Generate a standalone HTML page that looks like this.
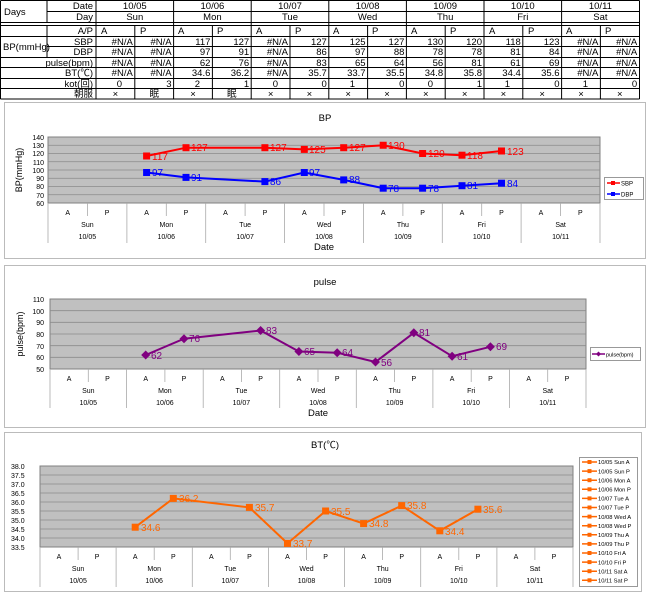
<!DOCTYPE html>
<html><head><meta charset="utf-8"><style>
body{margin:0;background:#fff;}
svg{display:block;font-family:"Liberation Sans","Noto Sans CJK JP",sans-serif;}
.t{font-size:9.5px;fill:#000}
.s{font-size:7px;fill:#000}
.r{text-anchor:end}
.c{text-anchor:middle}
</style></head><body>
<svg width="650" height="594" viewBox="0 0 650 594" xmlns="http://www.w3.org/2000/svg">
<rect width="650" height="594" fill="#fff"/>
<!-- TABLE -->
<g stroke="#000" stroke-width="1" fill="none">
<path d="M0.5 0.5H639.5M47 11.5H639.5M0.5 22.5H639.5M0.5 25.5H639.5M0.5 36.5H639.5M47 46.5H639.5M0.5 57.5H639.5M0.5 67.5H639.5M0.5 78.5H639.5M0.5 88.5H639.5M0.5 99H639.5"/>
<path d="M0.5 0.5V99M639.5 0.5V99M47 0.5V22.5M47 25.5V57.5M96 0.5V99M173.6 0.5V99M251.2 0.5V99M328.8 0.5V99M406.4 0.5V99M484 0.5V99M561.6 0.5V99"/>
<path d="M134.8 25.5V99M212.4 25.5V99M290 25.5V99M367.6 25.5V99M445.2 25.5V99M522.8 25.5V99M600.4 25.5V99"/>
</g>
<g class="t">
<text x="4" y="15">Days</text>
<text x="93" y="9" class="r">Date</text><text x="93" y="20" class="r">Day</text><text x="93" y="34" class="r">A/P</text>
<text x="3" y="50">BP(mmHg)</text>
<text x="93" y="45" class="r">SBP</text><text x="93" y="55" class="r">DBP</text>
<text x="93" y="66" class="r">pulse(bpm)</text><text x="93" y="76" class="r">BT(℃)</text><text x="93" y="87" class="r">kot(回)</text><text x="93" y="97" class="r">朝服</text>
<g class="c">
<text x="134.8" y="9">10/05</text><text x="212.4" y="9">10/06</text><text x="290" y="9">10/07</text><text x="367.6" y="9">10/08</text><text x="445.2" y="9">10/09</text><text x="522.8" y="9">10/10</text><text x="600.4" y="9">10/11</text>
<text x="134.8" y="20">Sun</text><text x="212.4" y="20">Mon</text><text x="290" y="20">Tue</text><text x="367.6" y="20">Wed</text><text x="445.2" y="20">Thu</text><text x="522.8" y="20">Fri</text><text x="600.4" y="20">Sat</text>
</g>
<g>
<text x="101" y="34">A</text><text x="140" y="34">P</text><text x="178" y="34">A</text><text x="217" y="34">P</text><text x="256" y="34">A</text><text x="295" y="34">P</text><text x="333" y="34">A</text><text x="372" y="34">P</text><text x="411" y="34">A</text><text x="450" y="34">P</text><text x="489" y="34">A</text><text x="528" y="34">P</text><text x="566" y="34">A</text><text x="605" y="34">P</text>
</g>
<g class="r">
<text x="132.8" y="45">#N/A</text><text x="171.6" y="45">#N/A</text><text x="210.4" y="45">117</text><text x="249.2" y="45">127</text><text x="288" y="45">#N/A</text><text x="326.8" y="45">127</text><text x="365.6" y="45">125</text><text x="404.4" y="45">127</text><text x="443.2" y="45">130</text><text x="482" y="45">120</text><text x="520.8" y="45">118</text><text x="559.6" y="45">123</text><text x="598.4" y="45">#N/A</text><text x="637.2" y="45">#N/A</text>
<text x="132.8" y="55">#N/A</text><text x="171.6" y="55">#N/A</text><text x="210.4" y="55">97</text><text x="249.2" y="55">91</text><text x="288" y="55">#N/A</text><text x="326.8" y="55">86</text><text x="365.6" y="55">97</text><text x="404.4" y="55">88</text><text x="443.2" y="55">78</text><text x="482" y="55">78</text><text x="520.8" y="55">81</text><text x="559.6" y="55">84</text><text x="598.4" y="55">#N/A</text><text x="637.2" y="55">#N/A</text>
<text x="132.8" y="66">#N/A</text><text x="171.6" y="66">#N/A</text><text x="210.4" y="66">62</text><text x="249.2" y="66">76</text><text x="288" y="66">#N/A</text><text x="326.8" y="66">83</text><text x="365.6" y="66">65</text><text x="404.4" y="66">64</text><text x="443.2" y="66">56</text><text x="482" y="66">81</text><text x="520.8" y="66">61</text><text x="559.6" y="66">69</text><text x="598.4" y="66">#N/A</text><text x="637.2" y="66">#N/A</text>
<text x="132.8" y="76">#N/A</text><text x="171.6" y="76">#N/A</text><text x="210.4" y="76">34.6</text><text x="249.2" y="76">36.2</text><text x="288" y="76">#N/A</text><text x="326.8" y="76">35.7</text><text x="365.6" y="76">33.7</text><text x="404.4" y="76">35.5</text><text x="443.2" y="76">34.8</text><text x="482" y="76">35.8</text><text x="520.8" y="76">34.4</text><text x="559.6" y="76">35.6</text><text x="598.4" y="76">#N/A</text><text x="637.2" y="76">#N/A</text>
<text x="122" y="87">0</text><text x="171.6" y="87">3</text><text x="200" y="87">2</text><text x="249.2" y="87">1</text><text x="278" y="87">0</text><text x="326.8" y="87">0</text><text x="355" y="87">1</text><text x="404.4" y="87">0</text><text x="433" y="87">0</text><text x="482" y="87">1</text><text x="510" y="87">1</text><text x="559.6" y="87">0</text><text x="588" y="87">1</text><text x="637.2" y="87">0</text>
</g>
<g class="c">
<text x="115.4" y="97">×</text><text x="154.2" y="97">眠</text><text x="193" y="97">×</text><text x="231.8" y="97">眠</text><text x="270.6" y="97">×</text><text x="309.4" y="97">×</text><text x="348.2" y="97">×</text><text x="387" y="97">×</text><text x="425.8" y="97">×</text><text x="464.6" y="97">×</text><text x="503.4" y="97">×</text><text x="542.2" y="97">×</text><text x="581" y="97">×</text><text x="619.8" y="97">×</text>
</g>
</g>

<!-- BP CHART -->
<rect x="4.5" y="102.5" width="641" height="156" fill="#fff" stroke="#bbb"/>
<text x="325" y="121" class="t c">BP</text>
<rect x="48" y="137" width="552" height="66" fill="#c0c0c0" stroke="#808080"/>
<g stroke="#8a8a8a" stroke-width="0.8"><path d="M48 145.25H600M48 153.5H600M48 161.75H600M48 170H600M48 178.25H600M48 186.5H600M48 194.75H600"/></g>
<g class="s r"><text x="44" y="140">140</text><text x="44" y="148">130</text><text x="44" y="156">120</text><text x="44" y="165">110</text><text x="44" y="173">100</text><text x="44" y="181">90</text><text x="44" y="189">80</text><text x="44" y="198">70</text><text x="44" y="206">60</text></g>
<text transform="translate(22,170) rotate(-90)" class="t c" style="font-size:9px">BP(mmHg)</text>
<g stroke="#aaa" stroke-width="0.8"><path d="M48 203V243M126.9 203V243M205.7 203V243M284.6 203V243M363.4 203V243M442.3 203V243M521.1 203V243M600 203V243M87.4 203V216M166.3 203V216M245.1 203V216M324 203V216M402.9 203V216M481.7 203V216M560.6 203V216"/></g>
<g class="s c">
<text x="67.7" y="215">A</text><text x="107.1" y="215">P</text><text x="146.6" y="215">A</text><text x="186" y="215">P</text><text x="225.4" y="215">A</text><text x="264.9" y="215">P</text><text x="304.3" y="215">A</text><text x="343.7" y="215">P</text><text x="383.2" y="215">A</text><text x="422.6" y="215">P</text><text x="462" y="215">A</text><text x="501.5" y="215">P</text><text x="540.9" y="215">A</text><text x="580.3" y="215">P</text>
<text x="87.4" y="227">Sun</text><text x="166.3" y="227">Mon</text><text x="245.1" y="227">Tue</text><text x="324" y="227">Wed</text><text x="402.9" y="227">Thu</text><text x="481.7" y="227">Fri</text><text x="560.6" y="227">Sat</text>
<text x="87.4" y="239">10/05</text><text x="166.3" y="239">10/06</text><text x="245.1" y="239">10/07</text><text x="324" y="239">10/08</text><text x="402.9" y="239">10/09</text><text x="481.7" y="239">10/10</text><text x="560.6" y="239">10/11</text>
</g>
<text x="324" y="250" class="t c">Date</text>
<polyline points="146.6,156 186,147.7 264.9,147.7 304.3,149.4 343.7,147.7 383.2,145.25 422.6,153.5 462,155.2 501.5,151" fill="none" stroke="#f00" stroke-width="2"/>
<g fill="#f00"><rect x="143.1" y="152.5" width="7" height="7"/><rect x="182.5" y="144.2" width="7" height="7"/><rect x="261.4" y="144.2" width="7" height="7"/><rect x="300.8" y="145.9" width="7" height="7"/><rect x="340.2" y="144.2" width="7" height="7"/><rect x="379.7" y="141.75" width="7" height="7"/><rect x="419.1" y="150" width="7" height="7"/><rect x="458.5" y="151.7" width="7" height="7"/><rect x="498" y="147.5" width="7" height="7"/></g>
<g fill="#f00" style="font-size:10px"><text x="152" y="160">117</text><text x="191" y="151">127</text><text x="270" y="151">127</text><text x="309" y="153">125</text><text x="349" y="151">127</text><text x="388" y="149">130</text><text x="428" y="157">120</text><text x="467" y="159">118</text><text x="507" y="155">123</text></g>
<polyline points="146.6,172.5 186,177.4 264.9,181.6 304.3,172.5 343.7,179.9 383.2,188.2 422.6,188.2 462,185.7 501.5,183.2" fill="none" stroke="#00f" stroke-width="2"/>
<g fill="#00f"><rect x="143.1" y="169" width="7" height="7"/><rect x="182.5" y="173.9" width="7" height="7"/><rect x="261.4" y="178.1" width="7" height="7"/><rect x="300.8" y="169" width="7" height="7"/><rect x="340.2" y="176.4" width="7" height="7"/><rect x="379.7" y="184.7" width="7" height="7"/><rect x="419.1" y="184.7" width="7" height="7"/><rect x="458.5" y="182.2" width="7" height="7"/><rect x="498" y="179.7" width="7" height="7"/></g>
<g fill="#00f" style="font-size:10px"><text x="152" y="176">97</text><text x="191" y="181">91</text><text x="270" y="185">86</text><text x="309" y="176">97</text><text x="349" y="183">88</text><text x="388" y="192">78</text><text x="428" y="192">78</text><text x="467" y="189">81</text><text x="507" y="187">84</text></g>
<rect x="604.5" y="177.5" width="39" height="22" fill="#fff" stroke="#999"/>
<path d="M607 183H620" stroke="#f00" stroke-width="1.5"/><rect x="611" y="181" width="4" height="4" fill="#f00"/><text x="621" y="185.5" style="font-size:6px">SBP</text>
<path d="M607 194H620" stroke="#00f" stroke-width="1.5"/><rect x="611" y="192" width="4" height="4" fill="#00f"/><text x="621" y="196.5" style="font-size:6px">DBP</text>

<!-- PULSE CHART -->
<rect x="4.5" y="265.5" width="641" height="162" fill="#fff" stroke="#bbb"/>
<text x="325" y="285" class="t c">pulse</text>
<rect x="50" y="299" width="536" height="70" fill="#c0c0c0" stroke="#808080"/>
<g stroke="#8a8a8a" stroke-width="0.8"><path d="M50 310.7H586M50 322.3H586M50 334H586M50 345.7H586M50 357.3H586"/></g>
<g class="s r"><text x="44" y="302">110</text><text x="44" y="314">100</text><text x="44" y="325">90</text><text x="44" y="337">80</text><text x="44" y="349">70</text><text x="44" y="360">60</text><text x="44" y="372">50</text></g>
<text transform="translate(23,334) rotate(-90)" class="t c" style="font-size:9px">pulse(bpm)</text>
<g stroke="#aaa" stroke-width="0.8"><path d="M50 369V408M126.6 369V408M203.2 369V408M279.7 369V408M356.3 369V408M432.9 369V408M509.5 369V408M586 369V408M88.3 369V382M164.9 369V382M241.4 369V382M318 369V382M394.6 369V382M471.2 369V382M547.7 369V382"/></g>
<g class="s c">
<text x="69.1" y="381">A</text><text x="107.4" y="381">P</text><text x="145.7" y="381">A</text><text x="184" y="381">P</text><text x="222.3" y="381">A</text><text x="260.6" y="381">P</text><text x="298.9" y="381">A</text><text x="337.2" y="381">P</text><text x="375.5" y="381">A</text><text x="413.8" y="381">P</text><text x="452.1" y="381">A</text><text x="490.4" y="381">P</text><text x="528.7" y="381">A</text><text x="567" y="381">P</text>
<text x="88.3" y="393">Sun</text><text x="164.9" y="393">Mon</text><text x="241.4" y="393">Tue</text><text x="318" y="393">Wed</text><text x="394.6" y="393">Thu</text><text x="471.2" y="393">Fri</text><text x="547.7" y="393">Sat</text>
<text x="88.3" y="405">10/05</text><text x="164.9" y="405">10/06</text><text x="241.4" y="405">10/07</text><text x="318" y="405">10/08</text><text x="394.6" y="405">10/09</text><text x="471.2" y="405">10/10</text><text x="547.7" y="405">10/11</text>
</g>
<text x="318" y="416" class="t c">Date</text>
<polyline points="145.7,355 184,338.7 260.6,330.5 298.9,351.5 337.2,352.7 375.5,362 413.8,332.8 452.1,356.2 490.4,346.8" fill="none" stroke="#800080" stroke-width="2"/>
<g fill="#800080">
<path d="M145.7 350.5l4.5 4.5l-4.5 4.5l-4.5-4.5z"/><path d="M184 334.2l4.5 4.5l-4.5 4.5l-4.5-4.5z"/><path d="M260.6 326l4.5 4.5l-4.5 4.5l-4.5-4.5z"/><path d="M298.9 347l4.5 4.5l-4.5 4.5l-4.5-4.5z"/><path d="M337.2 348.2l4.5 4.5l-4.5 4.5l-4.5-4.5z"/><path d="M375.5 357.5l4.5 4.5l-4.5 4.5l-4.5-4.5z"/><path d="M413.8 328.3l4.5 4.5l-4.5 4.5l-4.5-4.5z"/><path d="M452.1 351.7l4.5 4.5l-4.5 4.5l-4.5-4.5z"/><path d="M490.4 342.3l4.5 4.5l-4.5 4.5l-4.5-4.5z"/>
</g>
<g fill="#800080" style="font-size:10px"><text x="151" y="359">62</text><text x="189" y="342">76</text><text x="266" y="334">83</text><text x="304" y="355">65</text><text x="342" y="356">64</text><text x="381" y="366">56</text><text x="419" y="336">81</text><text x="457" y="360">61</text><text x="496" y="350">69</text></g>
<rect x="590.5" y="347.5" width="50" height="13" fill="#fff" stroke="#999"/>
<path d="M592 354H605" stroke="#800080" stroke-width="1.5"/><path d="M598.5 351.5l2.5 2.5l-2.5 2.5l-2.5-2.5z" fill="#800080"/><text x="606" y="356.5" style="font-size:5.5px">pulse(bpm)</text>

<!-- BT CHART -->
<rect x="4.5" y="432.5" width="637" height="159" fill="#fff" stroke="#bbb"/>
<text x="325" y="448" class="t c">BT(℃)</text>
<rect x="40" y="466" width="533" height="81" fill="#c0c0c0" stroke="#808080"/>
<g stroke="#8a8a8a" stroke-width="0.8"><path d="M40 475H573M40 484H573M40 493H573M40 502H573M40 511H573M40 520H573M40 529H573M40 538H573"/></g>
<g class="s"><text x="11" y="469">38.0</text><text x="11" y="478">37.5</text><text x="11" y="487">37.0</text><text x="11" y="496">36.5</text><text x="11" y="505">36.0</text><text x="11" y="514">35.5</text><text x="11" y="523">35.0</text><text x="11" y="532">34.5</text><text x="11" y="541">34.0</text><text x="11" y="550">33.5</text></g>
<g stroke="#aaa" stroke-width="0.8"><path d="M40 547V587M116.1 547V587M192.3 547V587M268.4 547V587M344.6 547V587M420.7 547V587M496.9 547V587M573 547V587M78.1 547V560M154.2 547V560M230.3 547V560M306.5 547V560M382.6 547V560M458.8 547V560M534.9 547V560"/></g>
<g class="s c">
<text x="59" y="559">A</text><text x="97.1" y="559">P</text><text x="135.2" y="559">A</text><text x="173.3" y="559">P</text><text x="211.3" y="559">A</text><text x="249.4" y="559">P</text><text x="287.5" y="559">A</text><text x="325.6" y="559">P</text><text x="363.6" y="559">A</text><text x="401.7" y="559">P</text><text x="439.8" y="559">A</text><text x="477.9" y="559">P</text><text x="515.9" y="559">A</text><text x="554" y="559">P</text>
<text x="78.1" y="571">Sun</text><text x="154.2" y="571">Mon</text><text x="230.3" y="571">Tue</text><text x="306.5" y="571">Wed</text><text x="382.6" y="571">Thu</text><text x="458.8" y="571">Fri</text><text x="534.9" y="571">Sat</text>
<text x="78.1" y="583">10/05</text><text x="154.2" y="583">10/06</text><text x="230.3" y="583">10/07</text><text x="306.5" y="583">10/08</text><text x="382.6" y="583">10/09</text><text x="458.8" y="583">10/10</text><text x="534.9" y="583">10/11</text>
</g>
<polyline points="135.2,527.2 173.3,498.4 249.4,507.4 287.5,543.4 325.6,511 363.6,523.6 401.7,505.6 439.8,530.8 477.9,509.2" fill="none" stroke="#ff6600" stroke-width="2"/>
<g fill="#ff6600"><rect x="131.7" y="523.7" width="7" height="7"/><rect x="169.8" y="494.9" width="7" height="7"/><rect x="245.9" y="503.9" width="7" height="7"/><rect x="284" y="539.9" width="7" height="7"/><rect x="322.1" y="507.5" width="7" height="7"/><rect x="360.1" y="520.1" width="7" height="7"/><rect x="398.2" y="502.1" width="7" height="7"/><rect x="436.3" y="527.3" width="7" height="7"/><rect x="474.4" y="505.7" width="7" height="7"/></g>
<g fill="#ff6600" style="font-size:10px"><text x="141" y="531">34.6</text><text x="179" y="502">36.2</text><text x="255" y="511">35.7</text><text x="293" y="547">33.7</text><text x="331" y="515">35.5</text><text x="369" y="527">34.8</text><text x="407" y="509">35.8</text><text x="445" y="535">34.4</text><text x="483" y="513">35.6</text></g>
<rect x="579.5" y="457.5" width="58" height="129" fill="#fff" stroke="#999"/>
<g stroke="#ff6600" stroke-width="1.5"><path d="M582 462H597M582 471.1H597M582 480.2H597M582 489.3H597M582 498.4H597M582 507.5H597M582 516.6H597M582 525.7H597M582 534.8H597M582 543.9H597M582 553H597M582 562.1H597M582 571.2H597M582 580.3H597"/></g>
<g fill="#ff6600"><rect x="587.5" y="460" width="4" height="4"/><rect x="587.5" y="469.1" width="4" height="4"/><rect x="587.5" y="478.2" width="4" height="4"/><rect x="587.5" y="487.3" width="4" height="4"/><rect x="587.5" y="496.4" width="4" height="4"/><rect x="587.5" y="505.5" width="4" height="4"/><rect x="587.5" y="514.6" width="4" height="4"/><rect x="587.5" y="523.7" width="4" height="4"/><rect x="587.5" y="532.8" width="4" height="4"/><rect x="587.5" y="541.9" width="4" height="4"/><rect x="587.5" y="551" width="4" height="4"/><rect x="587.5" y="560.1" width="4" height="4"/><rect x="587.5" y="569.2" width="4" height="4"/><rect x="587.5" y="578.3" width="4" height="4"/></g>
<g style="font-size:5.8px">
<text x="598" y="464.2">10/05 Sun A</text><text x="598" y="473.3">10/05 Sun P</text><text x="598" y="482.4">10/06 Mon A</text><text x="598" y="491.5">10/06 Mon P</text><text x="598" y="500.6">10/07 Tue A</text><text x="598" y="509.7">10/07 Tue P</text><text x="598" y="518.8">10/08 Wed A</text><text x="598" y="527.9">10/08 Wed P</text><text x="598" y="537">10/09 Thu A</text><text x="598" y="546.1">10/09 Thu P</text><text x="598" y="555.2">10/10 Fri A</text><text x="598" y="564.3">10/10 Fri P</text><text x="598" y="573.4">10/11 Sat A</text><text x="598" y="582.5">10/11 Sat P</text>
</g>
</svg>
</body></html>
